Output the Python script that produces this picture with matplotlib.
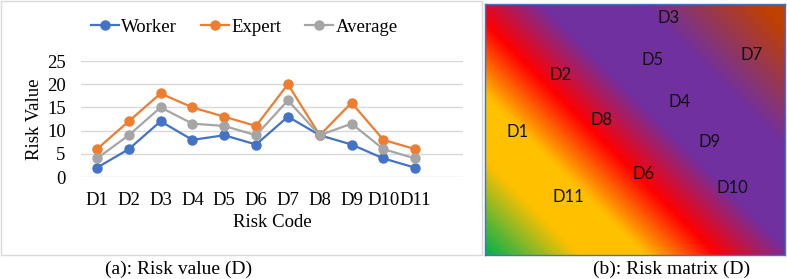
import numpy as np
import matplotlib.pyplot as plt
from matplotlib.colors import LinearSegmentedColormap
from matplotlib.patches import Rectangle

# datos del grafico (a)
codigos = ["D1", "D2", "D3", "D4", "D5", "D6", "D7", "D8", "D9", "D10", "D11"]
worker = [2, 6, 12, 8, 9, 7, 13, 9, 7, 4, 2]
expert = [6, 12, 18, 15, 13, 11, 20, 9, 16, 8, 6]
average = [4, 9, 15, 11.5, 11, 9, 16.5, 9, 11.5, 6, 4]

# datos de la matriz (b): posicion de cada riesgo (fraccion del recuadro)
matriz_codigos = ["D3", "D7", "D2", "D5", "D4", "D8", "D1", "D9", "D6", "D10", "D11"]
matriz_x = [0.613, 0.89, 0.253, 0.56, 0.647, 0.39, 0.11, 0.747, 0.53, 0.823, 0.277]
matriz_y = [0.944, 0.797, 0.717, 0.777, 0.61, 0.538, 0.49, 0.45, 0.323, 0.267, 0.231]

W, H = 787, 279
fig = plt.figure(figsize=(W / 100, H / 100), dpi=100)
serif = ["Liberation Serif", "DejaVu Serif"]

# marco gris del grafico (a)
fig.patches.append(Rectangle((1 / W, 1 - 255 / H), 481 / W, 254 / H,
                             transform=fig.transFigure, fill=False,
                             edgecolor="#D9D9D9", linewidth=1))

ax = fig.add_axes([81 / W, 1 - 177 / H, 382 / W, 116 / H])
x = np.arange(len(codigos))
ax.plot(x, worker, "-o", color="#4472C4", lw=1.6, ms=6.5, label="Worker")
ax.plot(x, expert, "-o", color="#ED7D31", lw=1.6, ms=6.5, label="Expert")
ax.plot(x, average, "-o", color="#A5A5A5", lw=1.6, ms=6.5, label="Average")

ax.set_xlim(-0.5, len(codigos) + 0.5)
ax.set_ylim(0, 25)
ax.set_yticks(range(0, 26, 5))
ax.set_xticks(x)
ax.set_xticklabels(codigos)
for s in ax.spines.values():
    s.set_visible(False)
ax.grid(axis="y", color="#D9D9D9", linewidth=1)
ax.set_axisbelow(True)
ax.tick_params(length=0, labelsize=13.5, pad=11)
for t in ax.get_xticklabels() + ax.get_yticklabels():
    t.set_family(serif)
ax.set_ylabel("Risk Value", family=serif, fontsize=13.5)
ax.set_xlabel("Risk Code", family=serif, fontsize=13.5)
ax.yaxis.set_label_coords(-0.1, 0.5)
ax.xaxis.set_label_coords(0.5, -0.32)

leg = ax.legend(loc="center", bbox_to_anchor=(0.427, 1 + (61 - 27) / 116), ncol=3,
                frameon=False, prop={"family": serif, "size": 13.5},
                handlelength=1.5, handletextpad=0.1, columnspacing=1.3)

# matriz de riesgo (b) con degradado diagonal
axm = fig.add_axes([485 / W, 1 - 255 / H, 300 / W, 251 / H])
cmap = LinearSegmentedColormap.from_list("riesgo", [
    (0.0, "#00B050"), (0.17, "#FFC000"), (0.29, "#FFC000"), (0.42, "#FF0000"),
    (0.56, "#7030A0"), (0.74, "#7030A0"), (0.96, "#C04000"), (1.0, "#C04000")])
px, py = np.meshgrid(np.arange(300), np.arange(251))
campo = (px + py) / (300 + 251)
axm.imshow(campo, cmap=cmap, origin="lower", extent=(0, 1, 0, 1),
           aspect="auto", interpolation="bilinear")
axm.set_xlim(0, 1)
axm.set_ylim(0, 1)
axm.set_xticks([])
axm.set_yticks([])
for s in axm.spines.values():
    s.set_color("#4472C4")
    s.set_linewidth(1)
for cod, mx, my in zip(matriz_codigos, matriz_x, matriz_y):
    axm.text(mx, my, cod, ha="center", va="center", fontsize=12,
             family="Lato", color="#111111")

fig.text(179 / W, 1 - 269 / H, "(a): Risk value (D)", ha="center", va="center",
         family=serif, fontsize=14)
fig.text(672 / W, 1 - 269 / H, "(b): Risk matrix (D)", ha="center", va="center",
         family=serif, fontsize=14)

fig.savefig("out.png", dpi=100)
